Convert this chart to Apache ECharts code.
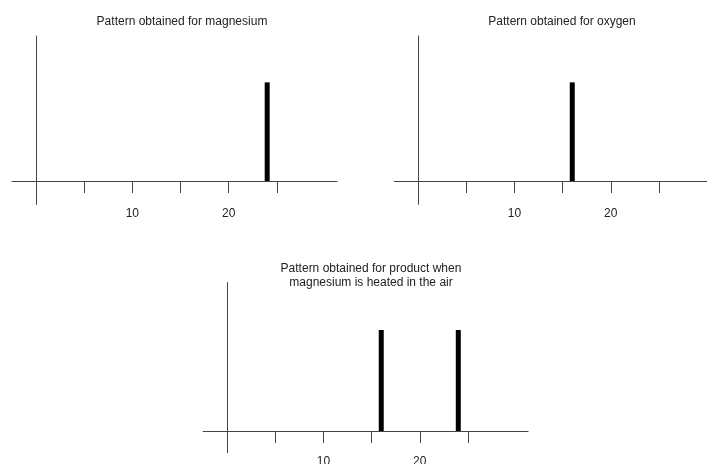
<!DOCTYPE html>
<html>
<head>
<meta charset="utf-8">
<script src="https://cdn.jsdelivr.net/npm/echarts@6/dist/echarts.min.js"></script>
<style>
  html, body { margin: 0; padding: 0; background: #fff; }
  #chart { width: 707px; height: 464px; }
</style>
</head>
<body>
<div id="chart"></div>
<script>
  // data
  const panelTitles = [
    'Pattern obtained for magnesium',
    'Pattern obtained for oxygen',
    'Pattern obtained for product when\nmagnesium is heated in the air'
  ];
  const magnesiumPeaks = [24];
  const oxygenPeaks = [16];
  const productPeaks = [16, 24];
  const peakHeights = [1, 1];
  const tickValues = [5, 10, 15, 20, 25];
  const labelValues = [10, 20];

  const peaks = [magnesiumPeaks, oxygenPeaks, productPeaks];

  // layout of the three panels (axis ranges chosen so all share one scale)
  const panels = [
    { left: 12, top: 36, width: 325, height: 168.3, xMax: 31.25, yMin: -0.236, titleX: 182, titleY: 15 },
    { left: 394.2, top: 36, width: 312.8, height: 168.3, xMax: 30, yMin: -0.236, titleX: 562, titleY: 15 },
    { left: 203.1, top: 282.5, width: 325, height: 170.2, xMax: 31.25, yMin: -0.215, titleX: 371, titleY: 262 }
  ];

  const font = "'Liberation Sans', Arial, Helvetica, sans-serif";
  const axisColor = '#444';

  let myChart = echarts.init(document.getElementById('chart'));

  let option = {
    animation: false,
    backgroundColor: '#fff',
    title: panels.map((p, i) => ({
      text: panelTitles[i],
      left: p.titleX,
      top: p.titleY,
      textAlign: 'center',
      padding: 0,
      textStyle: {
        fontFamily: font,
        fontSize: 12,
        fontWeight: 'normal',
        color: '#222',
        lineHeight: 14
      }
    })),
    grid: panels.map(p => ({
      left: p.left,
      top: p.top,
      width: p.width,
      height: p.height,
      outerBoundsMode: 'none',
      containLabel: false
    })),
    xAxis: panels.map((p, i) => ({
      type: 'value',
      gridIndex: i,
      min: -2.5,
      max: p.xMax,
      axisLine: { show: true, onZero: true, lineStyle: { color: axisColor, width: 1 } },
      axisTick: {
        show: true,
        customValues: tickValues,
        length: 12,
        lineStyle: { color: axisColor, width: 1 }
      },
      axisLabel: {
        show: true,
        customValues: labelValues,
        margin: 3,
        fontFamily: font,
        fontSize: 12,
        color: '#222'
      },
      splitLine: { show: false }
    })),
    yAxis: panels.map((p, i) => ({
      type: 'value',
      gridIndex: i,
      min: p.yMin,
      max: 1.47,
      axisLine: { show: true, onZero: true, lineStyle: { color: axisColor, width: 1 } },
      axisTick: { show: false },
      axisLabel: { show: false },
      splitLine: { show: false }
    })),
    series: peaks.map((list, i) => ({
      type: 'bar',
      xAxisIndex: i,
      yAxisIndex: i,
      barWidth: 5,
      itemStyle: { color: '#000' },
      data: list.map((x, k) => [x, peakHeights[k]])
    }))
  };
  myChart.setOption(option);
</script>
</body>
</html>
